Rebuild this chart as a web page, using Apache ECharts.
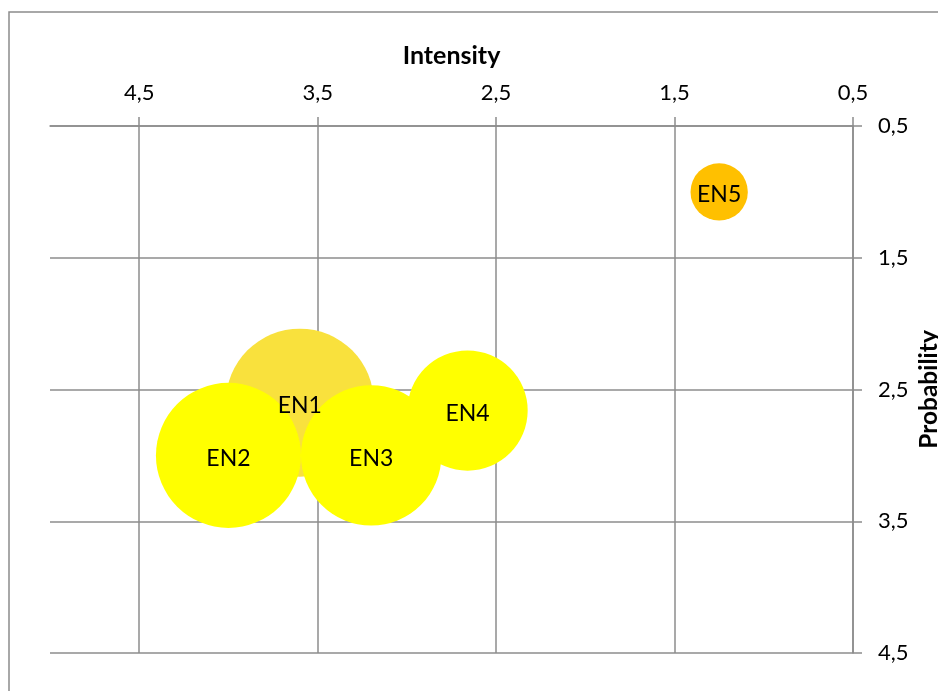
<!DOCTYPE html>
<html>
<head>
<meta charset="utf-8">
<script src="https://cdn.jsdelivr.net/npm/echarts@6/dist/echarts.min.js"></script>
<style>html,body{margin:0;padding:0;background:#fff}#c{width:938px;height:691px}</style>
</head>
<body>
<div id="c"></div>
<script>
var names = ['EN1', 'EN2', 'EN3', 'EN4', 'EN5'];
var intensity = [3.6, 4.0, 3.2, 2.66, 1.25];
var probability = [2.6, 3.0, 3.0, 2.66, 1.0];
var bubbleSize = [10, 9.6, 9.0, 6.6, 1.5];
var colors = ['#F9E13D', '#FFFF00', '#FFFF00', '#FFFF00', '#FFC000'];
var tickValues = [0.5, 1.5, 2.5, 3.5, 4.5];

var maxSize = Math.max.apply(null, bubbleSize);
var maxDiameter = 148;
var FONT = 'Lato';
var GRID = '#8c8c8c';

var data = names.map(function (n, i) {
  return {
    name: n,
    value: [intensity[i], probability[i], bubbleSize[i]],
    itemStyle: { color: colors[i] }
  };
});

var chart = echarts.init(document.getElementById('c'), null, { renderer: 'canvas' });
chart.setOption({
  animation: false,
  backgroundColor: '#fff',
  graphic: [{
    type: 'rect',
    shape: { x: 9, y: 12, width: 1000, height: 1000 },
    style: { fill: 'none', stroke: GRID, lineWidth: 1.5 },
    silent: true
  }],
  grid: { left: 50, right: 85, top: 126, bottom: 38, containLabel: false, outerBoundsMode: 'none' },
  xAxis: {
    type: 'value',
    position: 'top',
    inverse: true,
    min: 0.5,
    max: 5.0,
    name: 'Intensity',
    nameLocation: 'middle',
    nameGap: 58,
    nameTextStyle: { fontFamily: FONT, fontWeight: 'bold', fontSize: 25, color: '#000' },
    axisLine: { show: true, lineStyle: { color: GRID, width: 1.5 } },
    axisTick: { show: true, length: 9, inside: false, customValues: tickValues, lineStyle: { color: GRID, width: 1.5 } },
    axisLabel: {
      customValues: tickValues,
      margin: 22,
      fontFamily: FONT, fontSize: 22, color: '#000',
      formatter: function (v) { return String(v).replace('.', ','); }
    },
    splitLine: { show: true, lineStyle: { color: GRID, width: 1.5 } }
  },
  yAxis: {
    type: 'value',
    position: 'right',
    inverse: true,
    min: 0.5,
    max: 4.5,
    interval: 1,
    name: 'Probability',
    nameLocation: 'middle',
    nameRotate: 90,
    nameGap: 64,
    nameMoveOverlap: false,
    nameTextStyle: { fontFamily: FONT, fontWeight: 'bold', fontSize: 24.5, color: '#000' },
    axisLine: { show: true, lineStyle: { color: GRID, width: 1.5 } },
    axisTick: { show: true, length: 9, inside: false, customValues: tickValues, lineStyle: { color: GRID, width: 1.5 } },
    axisLabel: {
      customValues: tickValues,
      margin: 25,
      fontFamily: FONT, fontSize: 22, color: '#000',
      formatter: function (v) { return String(v).replace('.', ','); }
    },
    splitLine: { show: true, lineStyle: { color: GRID, width: 1.5 } }
  },
  series: [{
    type: 'scatter',
    data: data,
    symbol: 'circle',
    symbolSize: function (val) { return maxDiameter * Math.sqrt(val[2] / maxSize); },
    itemStyle: { opacity: 1 },
    label: {
      show: true,
      position: 'inside',
      offset: [0, 3],
      formatter: '{b}',
      fontFamily: FONT,
      fontSize: 23,
      color: '#000'
    },
    emphasis: { disabled: true }
  }]
});
</script>
</body>
</html>
